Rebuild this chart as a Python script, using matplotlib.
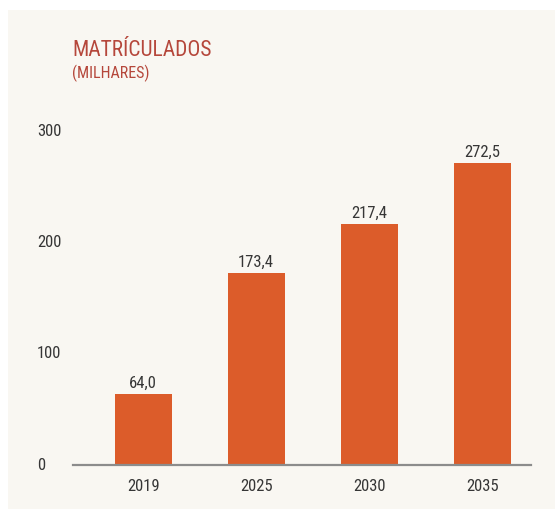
import matplotlib.pyplot as plt
import matplotlib.patches as mpatches
import matplotlib.transforms as mtransforms
from matplotlib import font_manager

anos = ['2019', '2025', '2030', '2035']
matriculados = [64.0, 173.4, 217.4, 272.5]
rotulos = ['64,0', '173,4', '217,4', '272,5']
eixo_y = [0, 100, 200, 300]

nomes = {f.name for f in font_manager.fontManager.ttflist}
if 'Liberation Sans Narrow' in nomes:
    fonte = 'Liberation Sans Narrow'
elif 'Roboto Condensed' in nomes:
    fonte = 'Roboto Condensed'
else:
    fonte = 'DejaVu Sans'
plt.rcParams['font.family'] = [fonte, 'DejaVu Sans']
plt.rcParams['font.stretch'] = 'condensed'

cor_barra = '#dc5c2a'
cor_titulo = '#b5473b'
cor_texto = '#363636'
fundo = '#f9f7f2'

W, H = 555, 509
fig = plt.figure(figsize=(W / 100, H / 100), dpi=100, facecolor='white')

# painel de fundo
fig.patches.append(mpatches.Rectangle((8 / W, 0), 1 - 8 / W, 1 - 10 / H,
                                      transform=fig.transFigure,
                                      facecolor=fundo, edgecolor='none', zorder=-5))

ax = fig.add_axes([73 / W, 1 - 465 / H, 458 / W, 333 / H])
ax.set_facecolor('none')
ax.set_zorder(2)

x = list(range(len(anos)))
barras = ax.bar(x, matriculados, width=0.505, color=cor_barra, zorder=2)
for b, r in zip(barras, rotulos):
    ax.text(b.get_x() + b.get_width() / 2, b.get_height() + 2.5, r,
            ha='center', va='bottom', fontsize=12, color=cor_texto)

ax.set_xlim(-0.62, 3.43)
ax.set_ylim(0, 300)

for s in ['top', 'right', 'left']:
    ax.spines[s].set_visible(False)
ax.spines['bottom'].set_color('#8c8c8c')
ax.spines['bottom'].set_linewidth(1.6)

ax.set_xticks(x)
ax.set_xticklabels(anos, fontsize=12, color=cor_texto)
ax.tick_params(axis='x', length=0, pad=10)

# rótulos do eixo y alinhados à esquerda
ax.set_yticks([])
trans = mtransforms.blended_transform_factory(fig.transFigure, ax.transData)
for v in eixo_y:
    ax.text(37 / W, v, str(v), transform=trans, ha='left', va='center',
            fontsize=12, color=cor_texto, clip_on=False)

fig.text(72 / W, 1 - 51 / H, 'MATRÍCULADOS', fontsize=15.5, color=cor_titulo,
         ha='left', va='center', zorder=3)
fig.text(72 / W, 1 - 73 / H, '(MILHARES)', fontsize=11.5, color=cor_titulo,
         ha='left', va='center', zorder=3)

fig.savefig('out.png', dpi=100, facecolor='white')
